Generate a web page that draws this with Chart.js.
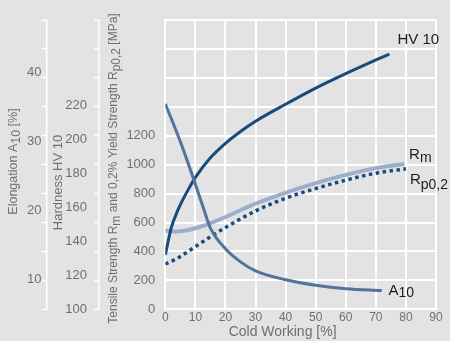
<!DOCTYPE html>
<html>
<head>
<meta charset="utf-8">
<script src="https://cdn.jsdelivr.net/npm/chart.js@4.4.0/dist/chart.umd.min.js"></script>
<style>
  html, body { margin: 0; padding: 0; background: #e3e3e3; }
</style>
</head>
<body>
<canvas id="grafico" width="450" height="341"></canvas>
<script>
// Kaltverformung [%] -> Eigenschaften
const hvX = [0, 2, 4, 6, 8, 10, 15, 20, 25, 30, 40, 50, 60, 70, 74.5];
const hvY = [132, 148, 157.5, 165, 171.5, 177.5, 189, 197.5, 204.5, 210.5, 220.5, 230, 238.5, 246.5, 250];

const rmX = [0, 4, 10, 15, 20, 25, 30, 40, 50, 60, 70, 79.5];
const rmY = [544, 538, 560, 595, 638, 685, 730, 805, 872, 929, 976, 1005];

const rpX = [0, 4, 10, 15, 20, 30, 40, 50, 60, 70, 80];
const rpY = [313, 353, 433, 502, 565, 680, 768, 835, 893, 941, 971];

const aX = [0, 5, 9.3, 12.7, 15, 20, 25, 30, 40, 50, 60, 72];
const aY = [35.5, 30, 24.7, 20.3, 17.4, 14.4, 12.5, 11.2, 9.9, 9.1, 8.6, 8.35];

// beschriftete Achsenwerte
const xTicks = [0, 10, 20, 30, 40, 50, 60, 70, 80, 90];
const mpaTicks = [0, 200, 400, 600, 800, 1000, 1200];
const hvTicks = [100, 120, 140, 160, 180, 200, 220];
const aTicks = [10, 20, 30, 40];

const cinza = '#707070';
const escuro = '#1c1c1c';
const fonte = '"Liberation Sans", Arial, sans-serif';
const corHV = '#184b7a';
const corA = '#52739c';
const corRm = '#9cafc8';
const corRp = '#184b7a';

const pts = (xs, ys) => xs.map((x, i) => ({ x, y: ys[i] }));

// Markierungen an den Gitterlinien + Beschriftung an eigenen Werten
function ticksMistos(min, max, rotulados) {
  const lista = [];
  for (let k = 0; k <= 10; k++) lista.push({ value: min + (max - min) * k / 10, mark: true });
  rotulados.forEach(v => {
    const t = lista.find(o => Math.abs(o.value - v) < 1e-6);
    if (t) t.label = true; else lista.push({ value: v, mark: false, label: true });
  });
  return lista.sort((a, b) => a.value - b.value);
}

function rico(c, partes, x, y, girar, tam, cor, centro) {
  c.save();
  c.translate(x, y);
  if (girar) c.rotate(-Math.PI / 2);
  c.fillStyle = cor;
  c.textBaseline = 'alphabetic';
  let w = 0;
  partes.forEach(p => { c.font = (p.tam || tam) + 'px ' + fonte; p.w = c.measureText(p.t).width; w += p.w; });
  let px = centro ? -w / 2 : 0;
  partes.forEach(p => {
    c.font = (p.tam || tam) + 'px ' + fonte;
    c.fillText(p.t, px, p.dy || 0);
    px += p.w;
  });
  c.restore();
}

const fundo = {
  id: 'fundo',
  beforeDraw(chart) {
    const c = chart.ctx;
    c.save();
    c.fillStyle = '#e3e3e3';
    c.fillRect(0, 0, chart.width, chart.height);
    c.restore();
  }
};

const rotulos = {
  id: 'rotulos',
  afterDraw(chart) {
    const c = chart.ctx;
    const sx = chart.scales.x, sh = chart.scales.yHV, sm = chart.scales.yMPa, sa = chart.scales.yA;
    const fim = (xs, ys, s) => [sx.getPixelForValue(xs[xs.length - 1]), s.getPixelForValue(ys[ys.length - 1])];

    // Achsentitel
    rico(c, [{ t: 'Elongation A' }, { t: '10', dy: 3 }, { t: ' [%]' }], 16.5, 161.5, true, 12.5, cinza, true);
    rico(c, [{ t: 'Hardness HV 10' }], 62, 182.5, true, 13, cinza, true);
    rico(c, [{ t: 'Tensile Strength R' }, { t: 'm', dy: 3 }, { t: ' and 0,2% Yield Strength R' }, { t: 'p0,2', dy: 3 }, { t: ' [MPa]' }],
      117, 168.5, true, 12, cinza, true);
    rico(c, [{ t: 'Cold Working [%]' }], sx.getPixelForValue(39), 336, false, 14, cinza, true);

    // Kurvenbeschriftung
    let [px, py] = fim(hvX, hvY, sh);
    rico(c, [{ t: 'HV 10' }], px + 8, py - 9.6, false, 15, escuro);
    [px, py] = fim(rmX, rmY, sm);
    rico(c, [{ t: 'R' }, { t: 'm', dy: 2.5, tam: 14 }], px + 4.7, py - 4.5, false, 15, escuro);
    [px, py] = fim(rpX, rpY, sm);
    rico(c, [{ t: 'R' }, { t: 'p0,2', dy: 5, tam: 14 }], px + 4, py + 15, false, 15, escuro);
    [px, py] = fim(aX, aY, sa);
    rico(c, [{ t: 'A' }, { t: '10', dy: 2, tam: 14 }], px + 6.7, py + 4.4, false, 15, escuro);
  }
};

const eixoLateral = (min, max, rotulados, largura, peso, padding) => ({
  position: 'left',
  weight: peso,
  min, max,
  afterBuildTicks: s => { s.ticks = ticksMistos(min, max, rotulados); },
  afterFit: s => { s.width = largura; },
  ticks: {
    autoSkip: false,
    padding,
    color: cinza,
    font: { family: fonte, size: 13 },
    callback: function (v, i, ticks) { return ticks[i].label ? String(v) : ''; }
  },
  grid: {
    drawOnChartArea: false,
    drawTicks: true,
    tickLength: 5,
    tickWidth: 1.5,
    tickColor: ctx => (ctx.tick && ctx.tick.mark) ? '#ffffff' : 'rgba(0,0,0,0)'
  },
  border: { color: '#ffffff', width: 1.5 }
});

new Chart(document.getElementById('grafico'), {
  type: 'line',
  data: {
    datasets: [
      { label: 'A10', data: pts(aX, aY), yAxisID: 'yA', borderColor: corA, borderWidth: 3 },
      { label: 'HV 10', data: pts(hvX, hvY), yAxisID: 'yHV', borderColor: corHV, borderWidth: 3 },
      { label: 'Rp0,2', data: pts(rpX, rpY), yAxisID: 'yMPa', borderColor: corRp, borderWidth: 3.5, borderDash: [3.5, 3.5] },
      { label: 'Rm', data: pts(rmX, rmY), yAxisID: 'yMPa', borderColor: corRm, borderWidth: 4 }
    ]
  },
  options: {
    responsive: false,
    animation: false,
    devicePixelRatio: 1,
    elements: {
      point: { radius: 0 },
      line: { cubicInterpolationMode: 'monotone', fill: false, borderCapStyle: 'butt' }
    },
    layout: { padding: { top: 20, right: 14, left: 0, bottom: 0 } },
    plugins: { legend: { display: false }, tooltip: { enabled: false } },
    scales: {
      x: {
        type: 'linear',
        position: 'bottom',
        min: 0, max: 90,
        afterBuildTicks: s => { s.ticks = xTicks.map(v => ({ value: v })); },
        afterFit: s => { s.height = 31.7; },
        ticks: { color: cinza, font: { family: fonte, size: 12 }, padding: 1, maxRotation: 0, autoSkip: false },
        grid: { color: '#ffffff', lineWidth: 2, drawTicks: false },
        border: { color: '#ffffff', width: 2 }
      },
      yMPa: {
        position: 'left',
        weight: 0,
        min: 0, max: 2000,
        afterBuildTicks: s => {
          s.ticks = [];
          for (let v = 0; v <= 2000; v += 200) s.ticks.push({ value: v });
        },
        afterFit: s => { s.width = 66.3; },
        ticks: {
          autoSkip: false,
          padding: 10,
          color: cinza,
          font: { family: fonte, size: 13 },
          callback: v => mpaTicks.includes(v) ? String(v) : ''
        },
        grid: { color: '#ffffff', lineWidth: 2, drawTicks: false },
        border: { color: '#ffffff', width: 2 }
      },
      yHV: eixoLateral(100, 270, hvTicks, 52.5, 1, 7),
      yA: eixoLateral(5.6, 47.7, aTicks, 46.5, 2, 0)
    }
  },
  plugins: [fundo, rotulos]
});
</script>
</body>
</html>
